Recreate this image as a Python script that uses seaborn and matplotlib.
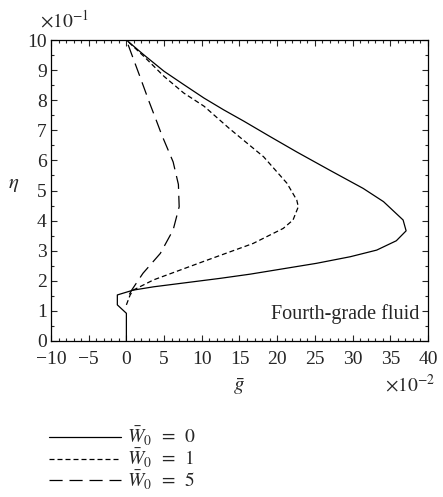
import matplotlib
matplotlib.use("Agg")
import matplotlib.pyplot as plt
import numpy as np
import pandas as pd
import seaborn as sns
from matplotlib.ticker import MultipleLocator

# curve values (g in 1e-2, eta in 1e-1)
g_w0 = [0.0, 0.0, -1.2, -1.2, 0.9, 3.6, 12.4, 16.4, 25.2, 29.7, 33.2, 35.8, 37.1, 36.7, 34.1, 31.4, 27.0, 22.6, 19.0, 15.6, 12.9, 10.3, 7.6, 5.0, 2.3, 0.0]
eta_w0 = [0.0, 0.92, 1.20, 1.53, 1.69, 1.80, 2.08, 2.22, 2.58, 2.80, 3.02, 3.33, 3.66, 4.02, 4.63, 5.07, 5.67, 6.28, 6.80, 7.30, 7.68, 8.07, 8.52, 8.96, 9.51, 10.0]

g_w1 = [0.0, 0.5, 0.9, 3.6, 10.2, 16.8, 20.8, 22.1, 22.8, 22.6, 21.3, 18.2, 13.7, 10.3, 7.6, 5.0, 2.3, 0.0]
eta_w1 = [1.20, 1.53, 1.69, 2.03, 2.64, 3.24, 3.74, 4.02, 4.46, 4.68, 5.24, 6.12, 7.05, 7.80, 8.24, 8.79, 9.46, 10.0]

g_w5 = [0.4, 0.7, 2.2, 4.5, 6.2, 7.0, 6.9, 6.2, 4.7, 4.1, 3.0, 1.7, 0.56, 0.0]
eta_w5 = [1.55, 1.69, 2.25, 2.91, 3.69, 4.46, 5.20, 5.95, 6.84, 7.24, 7.96, 8.85, 9.62, 10.0]

labels = [r"$\bar{W}_0\ \,=\ \,0$", r"$\bar{W}_0\ \,=\ \,1$", r"$\bar{W}_0\ \,=\ \,5$"]
dashes = [None, (4, 2.4), (10.5, 5.5)]

sns.set_style("white")
plt.rcParams["font.family"] = ["Liberation Serif", "DejaVu Serif"]
plt.rcParams["mathtext.fontset"] = "stix"

fig = plt.figure(figsize=(4.43, 4.97), dpi=100)
ax = fig.add_axes([0.1151, 0.3139, 0.8510, 0.6056])

series = [(g_w0, eta_w0), (g_w1, eta_w1), (g_w5, eta_w5)]
handles = []
for (g, eta), lab, d in zip(series, labels, dashes):
    df = pd.DataFrame({"g": g, "eta": eta})
    sns.lineplot(data=df, x="g", y="eta", sort=False, estimator=None, ax=ax,
                 color="black", linewidth=0.9, label=lab)
    line = ax.lines[-1]
    if d is not None:
        line.set_dashes(d)
    handles.append(line)

ax.set_xlim(-10, 40)
ax.set_ylim(0, 10)
ax.set_xticks(np.arange(-10, 41, 5))
ax.set_xticklabels([str(v).replace("-", "\u2212") for v in range(-10, 41, 5)])
ax.xaxis.set_minor_locator(MultipleLocator(1))
ax.yaxis.set_major_locator(MultipleLocator(1))
ax.yaxis.set_minor_locator(MultipleLocator(0.5))
ax.tick_params(which="both", direction="in", top=True, right=True, bottom=True, left=True,
               labelsize=14, width=0.8)
ax.tick_params(axis="x", pad=7)
ax.tick_params(axis="y", pad=3)
ax.tick_params(which="major", length=4)
ax.tick_params(which="minor", length=2.5)
for s in ax.spines.values():
    s.set_linewidth(0.9)
    s.set_color("black")

ax.set_xlabel(r"$\bar{g}$", fontsize=15, labelpad=6)
ax.set_ylabel(r"$\eta$", fontsize=15, rotation=0)
ax.yaxis.set_label_coords(-0.1, 0.49)
ax.text(-0.03, 1.03, r"$\times10^{-1}$", transform=ax.transAxes, fontsize=14, ha="left", va="bottom")
ax.text(1.02, -0.146, r"$\times10^{-2}$", transform=ax.transAxes, fontsize=14, ha="right", va="center")
ax.text(0.978, 0.09, "Fourth-grade fluid", transform=ax.transAxes, fontsize=14.5, ha="right", va="center")

ax.get_legend().remove()
fig.legend(handles=handles, labels=labels, loc="upper left", bbox_to_anchor=(0.094, 0.16),
           frameon=False, fontsize=14, handlelength=3.7, handletextpad=0.3, labelspacing=-0.08,
           borderaxespad=0)

fig.savefig("out.png", dpi=100)
